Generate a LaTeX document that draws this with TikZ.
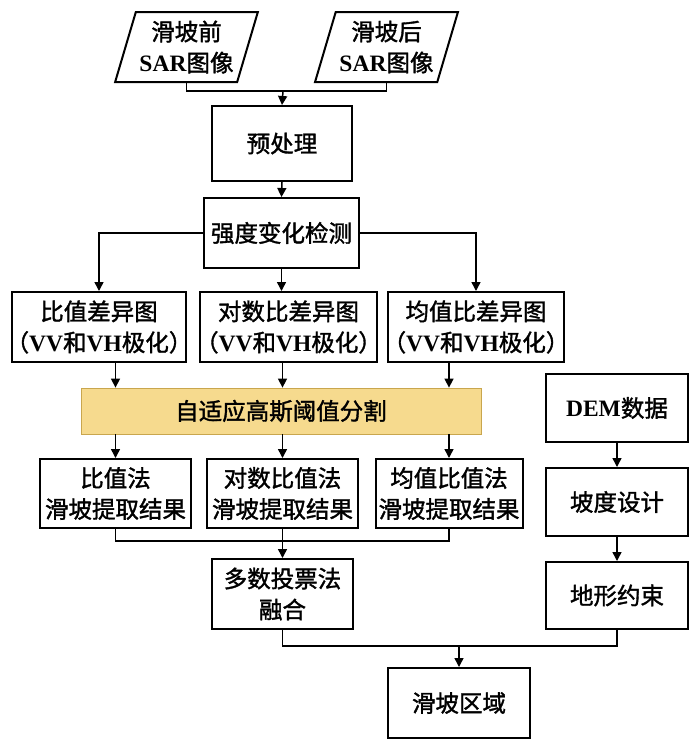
\documentclass[tikz,border=0pt]{standalone}
\usepackage{fontspec}
\setmainfont{Liberation Serif}
\newfontfamily\cjk{Noto Sans CJK SC}[FakeBold=1.5]
\newfontfamily\latfont{Liberation Serif}
\newcommand{\lt}[1]{{\latfont\bfseries #1}}
\newcommand{\pol}{\kern-0.3em（\lt{VV}和\lt{VH}极化）\kern-0.3em}
\usetikzlibrary{arrows.meta, shapes.geometric}
\definecolor{gaussfill}{HTML}{F6DA8E}
\definecolor{gaussline}{HTML}{C9A64E}

\tikzset{
	box/.style={draw, line width=2pt, align=center, inner sep=0pt, font=\cjk\fontsize{23.5}{31}\selectfont},
	databox/.style={box, trapezium, trapezium left angle=70, trapezium right angle=110, trapezium stretches=true},
	link/.style={line width=1.5pt},
	arrow/.style={link, -{Triangle[length=9pt, width=9pt]}},
}

\begin{document}
\begin{tikzpicture}[x=1pt, y=-1pt]
	\useasboundingbox (0,0) rectangle (700,747);
	% input images
	\node[databox, minimum width=143pt, minimum height=70pt] (before) at (186.5,47) {滑坡前\\\lt{SAR}图像};
	\node[databox, minimum width=143pt, minimum height=70pt] (after) at (386.5,47) {滑坡后\\\lt{SAR}图像};
	\node[box, minimum width=140pt, minimum height=75pt] (prep) at (282,143.5) {预处理};
	\node[box, minimum width=155pt, minimum height=70pt] (detect) at (281.5,233) {强度变化检测};
	% difference images
	\node[box, minimum width=174pt, minimum height=70pt] (ratiod) at (99,327) {比值差异图\\\pol};
	\node[box, minimum width=177pt, minimum height=70pt] (logd) at (288.5,327) {对数比差异图\\\pol};
	\node[box, minimum width=176pt, minimum height=70pt] (meand) at (476,327) {均值比差异图\\\pol};
	\node[box, line width=0.8pt, draw=gaussline, fill=gaussfill, minimum width=400pt, minimum height=46pt] (gauss) at (281,411) {自适应高斯阈值分割};
	% extraction results
	\node[box, minimum width=151pt, minimum height=69pt] (res1) at (115.5,493.5) {比值法\\滑坡提取结果};
	\node[box, minimum width=151pt, minimum height=69pt] (res2) at (282.5,493.5) {对数比值法\\滑坡提取结果};
	\node[box, minimum width=147pt, minimum height=69pt] (res3) at (449,493.5) {均值比值法\\滑坡提取结果};
	\node[box, minimum width=141pt, minimum height=70pt] (vote) at (282.5,594) {多数投票法\\融合};
	% terrain branch
	\node[box, minimum width=142pt, minimum height=68pt] (dem) at (617,408) {\lt{DEM}数据};
	\node[box, minimum width=142pt, minimum height=68pt] (slope) at (617,502) {坡度设计};
	\node[box, minimum width=142pt, minimum height=67pt] (terrain) at (617,595.5) {地形约束};
	\node[box, minimum width=142pt, minimum height=70pt] (area) at (459,703) {滑坡区域};

	\coordinate (join1) at (283,91);
	\coordinate (join2) at (282.5,541);
	\coordinate (join3) at (459,646);

	\draw[link] (before.south) |- (join1) -| (after.south);
	\draw[arrow] (join1) -- (prep.north);
	\draw[arrow] (prep.south) -- (detect.north);
	\draw[arrow] (detect.west) -| (ratiod.north);
	\draw[arrow] (detect.south) -- (detect.south |- logd.north);
	\draw[arrow] (detect.east) -| (meand.north);
	\foreach \r/\d in {res1/ratiod, res2/logd, res3/meand} {
		\draw[arrow] (\r |- \d.south) -- (\r |- gauss.north);
		\draw[arrow] (\r |- gauss.south) -- (\r.north);
	}
	\draw[link] (res1.south) |- (join2) -| (res3.south);
	\draw[arrow] (res2.south) -- (vote.north);
	\draw[arrow] (dem) -- (slope);
	\draw[arrow] (slope) -- (terrain);
	\draw[link] (vote.south) |- (join3) -| (terrain.south);
	\draw[arrow] (join3) -- (area.north);
\end{tikzpicture}
\end{document}
